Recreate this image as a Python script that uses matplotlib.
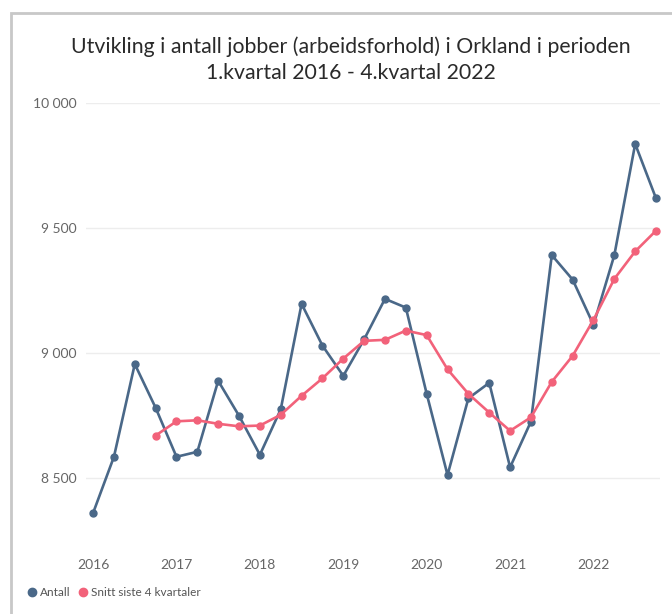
import matplotlib
matplotlib.use("Agg")
import matplotlib.pyplot as plt
from matplotlib.lines import Line2D
from matplotlib.patches import Rectangle

years = ["2016", "2017", "2018", "2019", "2020", "2021", "2022"]
quarters = [f"{y}K{q}" for y in years for q in range(1, 5)]

antall = [8358, 8583, 8954, 8779,
          8583, 8603, 8887, 8747,
          8591, 8773, 9195, 9028,
          8907, 9053, 9215, 9180,
          8835, 8510, 8817, 8879,
          8541, 8724, 9390, 9292,
          9111, 9390, 9835, 9617]

snitt = [None, None, None, 8668,
         8725, 8729, 8715, 8705,
         8708, 8751, 8827, 8897,
         8976, 9047, 9051, 9088,
         9070, 8933, 8835, 8760,
         8687, 8741, 8883, 8987,
         9131, 9295, 9405, 9488]

yticks = [8500, 9000, 9500, 10000]
ytick_labels = ["8 500", "9 000", "9 500", "10 000"]

title = "Utvikling i antall jobber (arbeidsforhold) i Orkland i perioden\n1.kvartal 2016 - 4.kvartal 2022"
legend_labels = ["Antall", "Snitt siste 4 kvartaler"]

blue = "#4A6888"
pink = "#F2627A"

plt.rcParams["font.family"] = ["Lato", "DejaVu Sans"]

fig = plt.figure(figsize=(6.72, 6.14), dpi=100)

# card background / border
card = Rectangle((11/672, -0.1), 1.2, 1.1 - 13/614, transform=fig.transFigure,
                 facecolor="white", edgecolor="#C8C8C8", linewidth=2.0, zorder=-10)
fig.patches.append(card)

ax = fig.add_axes([86/672, 1 - 545/614, (660 - 86)/672, (545 - 102.7)/614])
ax.set_facecolor("none")

x = list(range(len(quarters)))
ax.plot(x, antall, color=blue, lw=1.9, marker="o", ms=5, zorder=3)
xs = [i for i, v in zip(x, snitt) if v is not None]
ys = [v for v in snitt if v is not None]
ax.plot(xs, ys, color=pink, lw=1.9, marker="o", ms=5, zorder=4)

ax.set_ylim(8230, 10000)
ax.set_xlim(-0.34, 27.19)
ax.set_yticks(yticks)
ax.set_yticklabels(ytick_labels)
ax.set_xticks([4 * i for i in range(len(years))])
ax.set_xticklabels(years)
ax.tick_params(axis="both", length=0, labelsize=10, colors="#666666")
ax.tick_params(axis="x", pad=10)
ax.tick_params(axis="y", pad=7)
ax.grid(axis="y", color="#EDEDED", lw=1)
ax.grid(axis="x", visible=False)
for s in ax.spines.values():
    s.set_visible(False)

fig.text(351/672, 1 - 60/614, title, ha="center", va="center", fontsize=15.3,
         color="#2A2A2A", linespacing=1.4)

handles = [Line2D([], [], color=blue, marker="o", ls="none", ms=6),
           Line2D([], [], color=pink, marker="o", ls="none", ms=6)]
fig.legend(handles, legend_labels, loc="center left", bbox_to_anchor=(26/672, 1 - 593/614),
           ncol=2, frameon=False, fontsize=8.5, handletextpad=0.2, columnspacing=0.5,
           handlelength=1.0, labelcolor="#555555", borderaxespad=0, borderpad=0)

fig.savefig("out.png", dpi=100)
